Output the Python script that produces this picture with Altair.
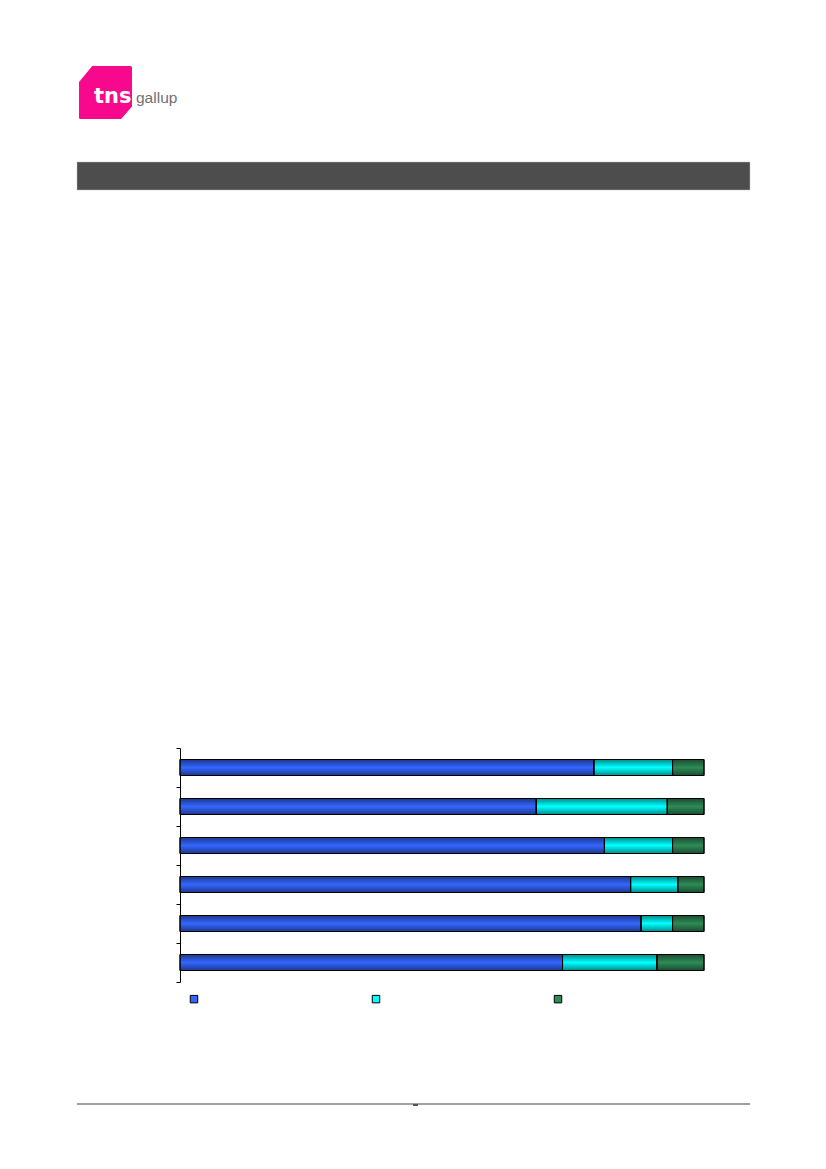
import altair as alt
import pandas as pd

# ---- data ----
categories = ["Kategori 1", "Kategori 2", "Kategori 3", "Kategori 4", "Kategori 5", "Kategori 6"]
series_names = ["Serie 1", "Serie 2", "Serie 3"]
serie_1 = [79, 68, 81, 86, 88, 73]
serie_2 = [15, 25, 13, 9, 6, 18]
serie_3 = [6, 7, 6, 5, 6, 9]
series_colors = ["#3366FF", "#00FFFF", "#2E8B57"]

rows = []
for i, cat in enumerate(categories):
    for k, vals in enumerate([serie_1, serie_2, serie_3]):
        rows.append({"kategori": cat, "serie": series_names[k], "orden": k, "pct": vals[i]})
df = pd.DataFrame(rows)

x_enc = alt.X("pct:Q", stack="zero", axis=None,
              scale=alt.Scale(domain=[0, 100], nice=False, zero=True))
y_enc = alt.Y("kategori:N", sort=categories, title=None,
              scale=alt.Scale(paddingInner=0, paddingOuter=0),
              axis=alt.Axis(labels=False, ticks=True, tickSize=4, tickColor="black",
                            domainColor="black", domainWidth=1, tickWidth=1,
                            bandPosition=1, tickExtra=True, grid=False, title=None))

bars = alt.Chart(df).mark_bar(stroke="black", strokeWidth=1, size=16).encode(
    x=x_enc,
    y=y_enc,
    color=alt.Color("serie:N", sort=series_names,
                    scale=alt.Scale(domain=series_names, range=series_colors),
                    legend=alt.Legend(orient="none", legendX=9, legendY=246,
                                      direction="horizontal", title=None,
                                      labelExpr="''", symbolType="square",
                                      symbolSize=56, symbolStrokeColor="black",
                                      symbolStrokeWidth=1, symbolOpacity=1,
                                      columnPadding=170, labelOffset=0,
                                      padding=0, offset=0)),
    order=alt.Order("orden:Q"),
)

shade = alt.LinearGradient(
    gradient="linear", x1=0, y1=0, x2=0, y2=1,
    stops=[alt.GradientStop(color="rgba(0,0,0,0.45)", offset=0),
           alt.GradientStop(color="rgba(0,0,0,0)", offset=0.5),
           alt.GradientStop(color="rgba(0,0,0,0.45)", offset=1)])

bars_shade = alt.Chart(df).mark_bar(fill=shade, stroke="black", strokeWidth=1, size=16).encode(
    x=x_enc,
    y=y_enc,
    order=alt.Order("orden:Q"),
    detail="serie:N",
)

one = pd.DataFrame({"a": [0]})

logo_path = ("M -0.5 -1 L 0.94 -1 Q 1 -1 1 -0.94 L 1 0.53 L 0.59 1 "
             "L -0.94 1 Q -1 1 -1 0.94 L -1 -0.4 Z")
logo = alt.Chart(one).mark_point(shape=logo_path, size=2809, filled=True,
                                 fill="#F7088C", opacity=1, strokeWidth=0).encode(
    x=alt.value(-74.5), y=alt.value(-655.5))
logo_tns = alt.Chart(one).mark_text(align="left", baseline="alphabetic",
                                    font="DejaVu Sans", fontWeight="bold",
                                    fontSize=21, color="white").encode(
    x=alt.value(-86), y=alt.value(-645), text=alt.value("tns"))
logo_gallup = alt.Chart(one).mark_text(align="left", baseline="alphabetic",
                                       font="Liberation Sans", fontSize=15.5,
                                       color="#707070").encode(
    x=alt.value(-44), y=alt.value(-645), text=alt.value("gallup"))

header = alt.Chart(one).mark_rect(fill="#4D4D4D", stroke="#BBBBBB", strokeWidth=0.5).encode(
    x=alt.value(-103), x2=alt.value(570), y=alt.value(-586), y2=alt.value(-558))

footer = alt.Chart(one).mark_rule(color="#A0A0A0", strokeWidth=2).encode(
    x=alt.value(-103), x2=alt.value(570), y=alt.value(356))
footer_mark = alt.Chart(one).mark_rule(color="#555555", strokeWidth=2).encode(
    x=alt.value(233), x2=alt.value(238), y=alt.value(357))

chart = alt.layer(bars, bars_shade, logo, logo_tns, logo_gallup, header, footer, footer_mark).properties(
    width=524, height=234,
    padding={"left": 172, "top": 740, "right": 114, "bottom": 170},
    autosize=alt.AutoSizeParams(type="none"),
    background="white",
).configure_view(stroke=None)

chart.save("out.html", embed_options={"renderer": "svg", "actions": False})
